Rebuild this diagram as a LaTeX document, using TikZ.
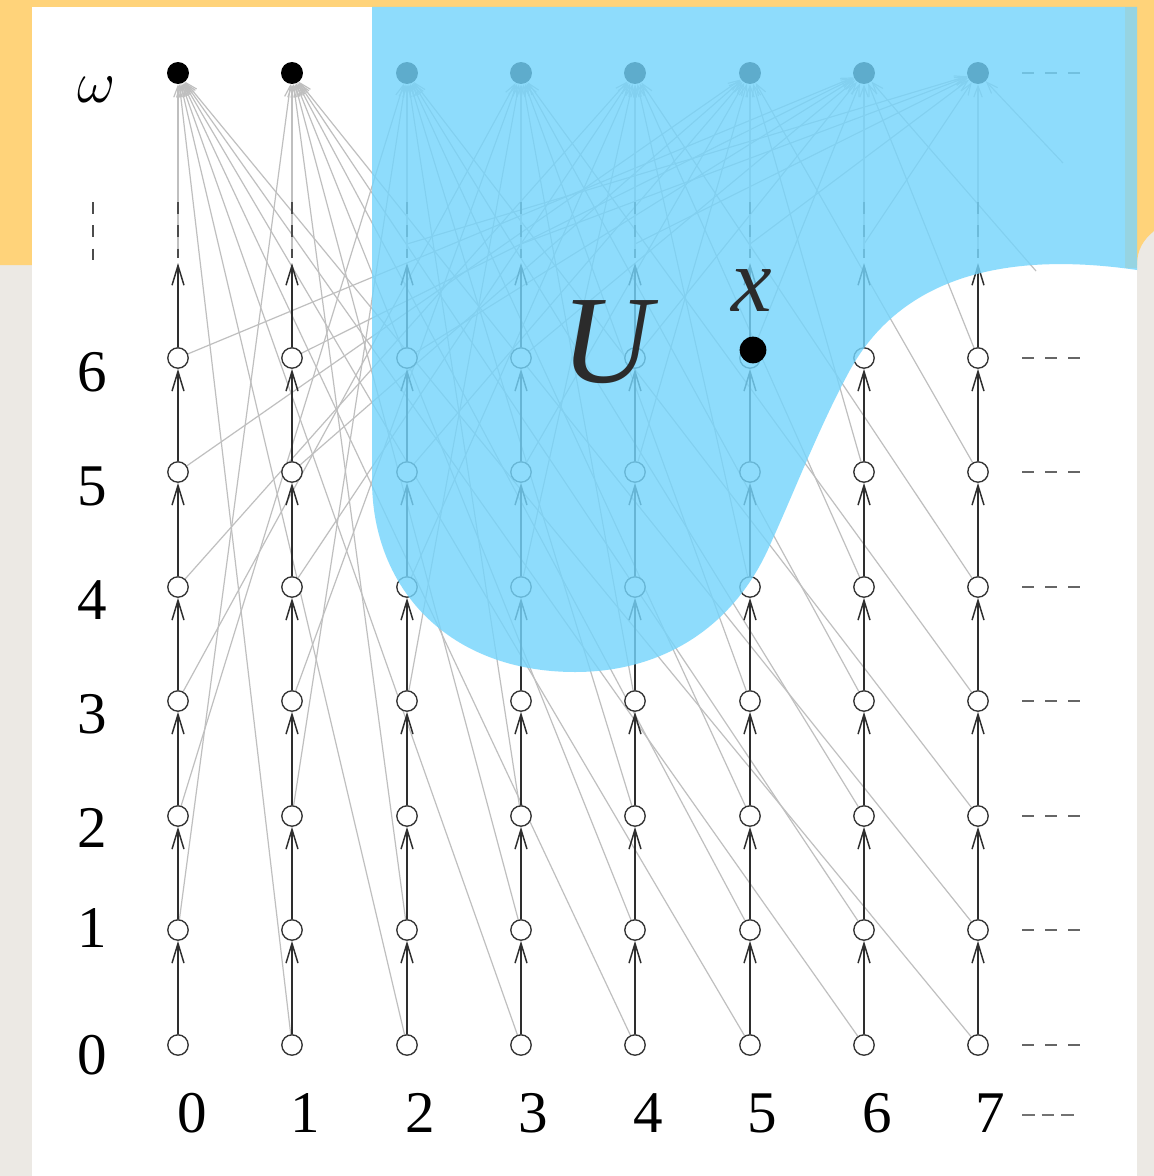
\RequirePackage{fix-cm}
\documentclass[tikz,border=0pt]{standalone}
\usepackage{fontspec}
\setmainfont{Liberation Serif}
\usetikzlibrary{arrows.meta}
\pgfdeclarelayer{back}
\pgfdeclarelayer{lines}
\pgfsetlayers{back,lines,main}
\definecolor{paper}{RGB}{236,233,228}
\definecolor{band}{RGB}{255,211,122}
\definecolor{sky}{RGB}{117,213,252}
\definecolor{strip}{RGB}{150,212,226}
\definecolor{ink}{RGB}{43,43,43}

\begin{document}
\begin{tikzpicture}[x=0.025cm,y=-0.025cm,
    vtx/.style={circle,draw=black!80,fill=white,line width=0.95pt,minimum size=14.5pt,inner sep=0pt},
    omg/.style={circle,fill=black,minimum size=15.6pt,inner sep=0pt},
    link/.style={draw=black!25,line width=0.85pt,-{Straight Barb[length=8pt,width=6pt]}},
    rise/.style={draw=black!82,line width=1.05pt,-{Straight Barb[length=14pt,width=8.5pt]}},
    vdash/.style={draw=black!70,line width=1.1pt,dash pattern=on 8.3pt off 8.3pt},
    rdash/.style={draw=black!60,line width=1pt,dash pattern=on 8.2pt off 8.2pt},
    lbl/.style={inner sep=0pt,font=\fontsize{42}{42}\selectfont}]
    \useasboundingbox (0,0) rectangle (1154,1176);
    % slide background
    \begin{pgfonlayer}{back}
        \fill[paper] (0,0) rectangle (1154,1176);
        \fill[band] (0,0) -- (1154,0) -- (1154,231) .. controls (1143,240) and (1137,250) .. (1137,265) -- (0,265) -- cycle;
        \fill[white] (32,7) rectangle (1137,1176);
    \end{pgfonlayer}
    % points of the grid and the limits
    \foreach \i/\x in {0/178,1/292,2/407,3/521,4/635,5/750,6/864,7/978} {
        \node[omg] (w\i) at (\x,73) {};
        \foreach \j/\y in {0/1045,1/930,2/816,3/701,4/587,5/472,6/358}
            \node[vtx] (v\i\j) at (\x,\y) {};
        \coordinate (t\i) at (\x,263);
        \coordinate (d\i) at (\x,202);
        \coordinate (e\i) at (\x,258);
        \coordinate (h\i) at (\x,244);
    }
    \coordinate (s6) at (1036,271);
    \coordinate (s7) at (1063,163);
    % sequences converging to the limits
    \begin{pgfonlayer}{lines}
        \foreach \i in {0,...,7}
            \foreach \j in {0,...,6}
                {\ifnum\i=\j\else\draw[link] (v\i\j) -- (w\j);\fi}
        \foreach \i in {0,...,7}
            \draw[link] (e\i) -- (w\i);
        \foreach \i in {2,...,6}
            \draw[link] (h\i) -- (w7);
        \draw[link] (s6) -- (w6);
        \draw[link] (s7) -- (w7);
        \foreach \i in {0,...,7} {
            \foreach \j [count=\k from 1] in {0,...,5}
                \draw[rise] (v\i\j) -- (v\i\k);
            \draw[rise] (v\i6) -- (t\i);
            \draw[vdash] (d\i) -- (e\i);
        }
    \end{pgfonlayer}
    % dashes to the right
    \foreach \y in {73,358,472,587,701,816,930,1045}
        \draw[rdash] (1022,\y) -- (1080,\y);
    \draw[draw=black!55,line width=0.8pt,dash pattern=on 9pt off 5pt] (1022,1115) -- (1080,1115);
    % labels
    \node[lbl] (om) at (97,90) {$\omega$};
    \draw[vdash] (93,202) -- (93,260);
    \foreach \j/\y in {0/1055,1/928,2/828,3/714,4/600,5/486,6/372}
        \node[lbl] (r\j) at (92,\y) {\j};
    \foreach \i/\x in {0/192,1/305,2/420,3/533,4/648,5/762,6/877,7/990}
        \node[lbl] (c\i) at (\x,1113) {\i};
    % the open set U
    \fill[sky,fill opacity=0.81] (372,7) -- (1137,7) -- (1137,270)
        .. controls (1000,250) and (900,280) .. (850,370)
        .. controls (820,425) and (795,490) .. (770,545)
        .. controls (735,625) and (665,672) .. (575,672)
        .. controls (450,672) and (372,590) .. (372,480) -- cycle;
    \fill[strip] (1125,7) rectangle (1137,268);
    \node[inner sep=0pt,text=ink,font=\fontsize{89}{89}\selectfont\itshape] (U) at (607,342) {U};
    \node[inner sep=0pt,text=ink,font=\fontsize{65}{65}\selectfont\itshape] (xl) at (752,291) {x};
    \node[circle,fill=black,minimum size=19pt,inner sep=0pt] (xp) at (753,350) {};
\end{tikzpicture}
\end{document}
